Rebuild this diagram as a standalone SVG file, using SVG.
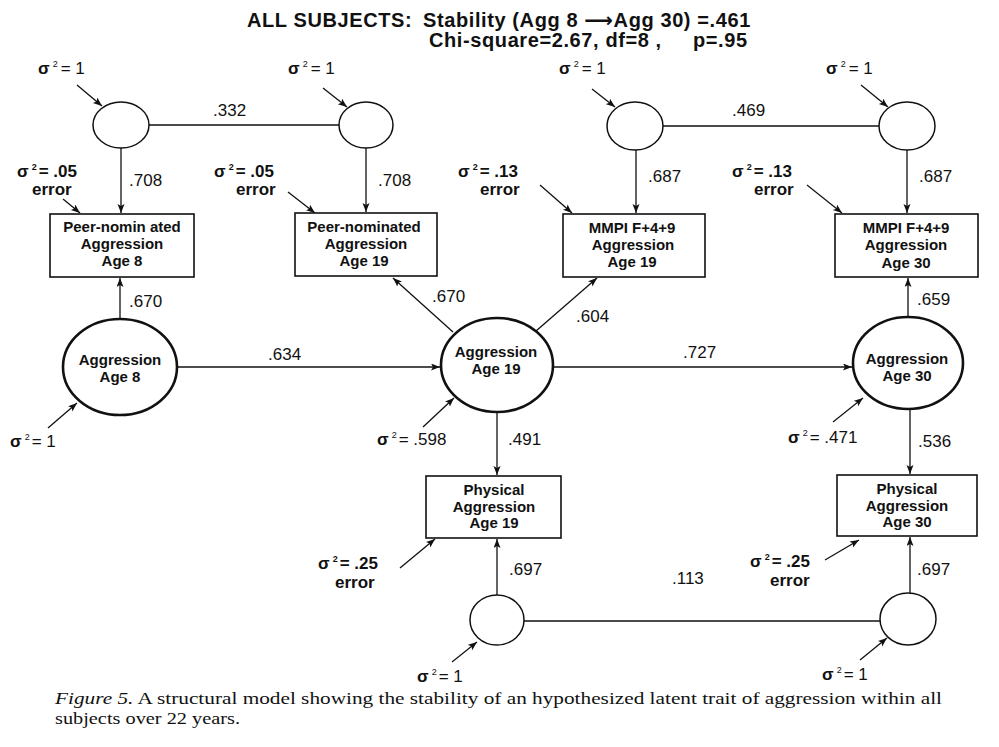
<svg xmlns="http://www.w3.org/2000/svg" width="999" height="747" viewBox="0 0 999 747">
<defs>
<marker id="ah" markerUnits="userSpaceOnUse" markerWidth="10" markerHeight="8" refX="9" refY="3.5" orient="auto">
<path d="M0,0 L9,3.5 L0,7 L2,3.5 z" fill="#111"/>
</marker>
</defs>
<style>
.ln{stroke:#111;stroke-width:1.3;fill:none}
.ar{marker-end:url(#ah)}
.sc{stroke:#111;stroke-width:1.5;fill:#fff}
.bc{stroke:#111;stroke-width:2.6;fill:#fff}
.bx{stroke:#111;stroke-width:1.6;fill:#fff}
text{font-family:"Liberation Sans","DejaVu Sans",Arial,sans-serif;fill:#111}
.nt{font-size:15px;font-weight:bold;text-anchor:middle}
.num{font-size:17px}
.sg{font-size:17px}
.b{font-weight:bold}
.sup{font-size:9px}
.ttl{font-size:20px;font-weight:bold;letter-spacing:0.6px}
.cap{font-family:"Liberation Serif","Times New Roman",serif;font-size:17.5px}
</style>
<rect width="999" height="747" fill="#fff"/>

<g id="title">
<text class="ttl" y="27"><tspan x="247">ALL SUBJECTS:</tspan><tspan x="423">Stability (Agg 8 ⟶Agg 30) =.461</tspan></text>
<text class="ttl" y="47"><tspan x="429">Chi-square=2.67, df=8 ,</tspan><tspan x="693">p=.95</tspan></text>
</g>

<g id="connectors">
<line class="ln" x1="149" y1="125" x2="339" y2="125"/>
<line class="ln" x1="663" y1="126" x2="879" y2="126"/>
<line class="ln" x1="524" y1="621" x2="881" y2="621"/>
<line class="ln ar" x1="121" y1="148" x2="121" y2="213"/>
<line class="ln ar" x1="366" y1="148" x2="366" y2="212"/>
<line class="ln ar" x1="636" y1="150" x2="636" y2="213"/>
<line class="ln ar" x1="907" y1="150" x2="907" y2="213"/>
<line class="ln ar" x1="120" y1="319" x2="120" y2="278"/>
<line class="ln ar" x1="177" y1="367" x2="440" y2="367"/>
<line class="ln ar" x1="453" y1="332" x2="393" y2="278"/>
<line class="ln ar" x1="536" y1="331" x2="597" y2="278"/>
<line class="ln ar" x1="553" y1="367" x2="852" y2="367"/>
<line class="ln ar" x1="908" y1="317" x2="908" y2="278"/>
<line class="ln ar" x1="497" y1="412" x2="497" y2="475"/>
<line class="ln ar" x1="910" y1="409" x2="910" y2="474"/>
<line class="ln ar" x1="497" y1="595" x2="497" y2="539"/>
<line class="ln ar" x1="910" y1="593" x2="910" y2="537"/>
<line class="ln ar" x1="77" y1="85" x2="102" y2="106"/>
<line class="ln ar" x1="323" y1="88" x2="347" y2="107"/>
<line class="ln ar" x1="592" y1="89" x2="615" y2="107"/>
<line class="ln ar" x1="861" y1="85" x2="888" y2="107"/>
<line class="ln ar" x1="63" y1="199" x2="80" y2="213"/>
<line class="ln ar" x1="288" y1="192" x2="315" y2="213"/>
<line class="ln ar" x1="540" y1="185" x2="572" y2="213"/>
<line class="ln ar" x1="807" y1="185" x2="842" y2="213"/>
<line class="ln ar" x1="48" y1="428" x2="77" y2="403"/>
<line class="ln ar" x1="423" y1="427" x2="454" y2="398"/>
<line class="ln ar" x1="833" y1="422" x2="863" y2="398"/>
<line class="ln ar" x1="400" y1="568" x2="435" y2="539"/>
<line class="ln ar" x1="825" y1="560" x2="859" y2="540"/>
<line class="ln ar" x1="452" y1="662" x2="477" y2="642"/>
<line class="ln ar" x1="860" y1="660" x2="887" y2="638"/>
<text class="num" x="213" y="116">.332</text>
<text class="num" x="732" y="116">.469</text>
<text class="num" x="672" y="584">.113</text>
<text class="num" x="129" y="186">.708</text>
<text class="num" x="378" y="186">.708</text>
<text class="num" x="648" y="182">.687</text>
<text class="num" x="919" y="182">.687</text>
<text class="num" x="129" y="307">.670</text>
<text class="num" x="268" y="360">.634</text>
<text class="num" x="432" y="302">.670</text>
<text class="num" x="576" y="322">.604</text>
<text class="num" x="683" y="358">.727</text>
<text class="num" x="917" y="305">.659</text>
<text class="num" x="508" y="445">.491</text>
<text class="num" x="918" y="447">.536</text>
<text class="num" x="509" y="575">.697</text>
<text class="num" x="917" y="575">.697</text>
</g>

<g id="var_peer8"><text class="sg" x="38" y="74"><tspan class="b">σ</tspan><tspan class="sup" dx="3" dy="-7">2</tspan><tspan dx="3" dy="7">= 1</tspan></text></g>
<g id="var_peer19"><text class="sg" x="288" y="74"><tspan class="b">σ</tspan><tspan class="sup" dx="3" dy="-7">2</tspan><tspan dx="3" dy="7">= 1</tspan></text></g>
<g id="var_mmpi19"><text class="sg" x="559" y="74"><tspan class="b">σ</tspan><tspan class="sup" dx="3" dy="-7">2</tspan><tspan dx="3" dy="7">= 1</tspan></text></g>
<g id="var_mmpi30"><text class="sg" x="826" y="74"><tspan class="b">σ</tspan><tspan class="sup" dx="3" dy="-7">2</tspan><tspan dx="3" dy="7">= 1</tspan></text></g>

<g id="err_peer8"><text class="sg b" x="17" y="177">σ<tspan class="sup" dx="3" dy="-7">2</tspan><tspan dx="2" dy="7">= .05</tspan></text><text class="sg b" x="32" y="195">error</text></g>
<g id="err_peer19"><text class="sg b" x="214" y="177">σ<tspan class="sup" dx="3" dy="-7">2</tspan><tspan dx="2" dy="7">= .05</tspan></text><text class="sg b" x="236" y="195">error</text></g>
<g id="err_mmpi19"><text class="sg b" x="458" y="177">σ<tspan class="sup" dx="3" dy="-7">2</tspan><tspan dx="2" dy="7">= .13</tspan></text><text class="sg b" x="480" y="195">error</text></g>
<g id="err_mmpi30"><text class="sg b" x="732" y="177">σ<tspan class="sup" dx="3" dy="-7">2</tspan><tspan dx="2" dy="7">= .13</tspan></text><text class="sg b" x="754" y="195">error</text></g>

<g id="lat_peer8"><ellipse class="sc" cx="121" cy="125" rx="28" ry="23"/></g>
<g id="lat_peer19"><ellipse class="sc" cx="366" cy="125" rx="27" ry="23"/></g>
<g id="lat_mmpi19"><ellipse class="sc" cx="635" cy="126" rx="28" ry="24"/></g>
<g id="lat_mmpi30"><ellipse class="sc" cx="907" cy="126" rx="28" ry="24"/></g>

<g id="box_peer8"><rect class="bx" x="50" y="214" width="144" height="63"/><text class="nt" x="122" y="232">Peer-nomin ated</text><text class="nt" x="122" y="249">Aggression</text><text class="nt" x="122" y="266">Age 8</text></g>
<g id="box_peer19"><rect class="bx" x="295" y="213" width="142" height="63"/><text class="nt" x="364" y="232">Peer-nominated</text><text class="nt" x="366" y="249">Aggression</text><text class="nt" x="364" y="266">Age 19</text></g>
<g id="box_mmpi19"><rect class="bx" x="563" y="214" width="142" height="63"/><text class="nt" x="632" y="233">MMPI F+4+9</text><text class="nt" x="633" y="250">Aggression</text><text class="nt" x="632" y="267">Age 19</text></g>
<g id="box_mmpi30"><rect class="bx" x="835" y="214" width="143" height="63"/><text class="nt" x="906" y="233">MMPI F+4+9</text><text class="nt" x="906" y="250">Aggression</text><text class="nt" x="906" y="268">Age 30</text></g>

<g id="agg8"><ellipse class="bc" cx="120" cy="367" rx="57" ry="48"/><text class="nt" x="120" y="365">Aggression</text><text class="nt" x="120" y="382">Age 8</text></g>
<g id="agg19"><ellipse class="bc" cx="497" cy="365" rx="56" ry="47"/><text class="nt" x="496" y="357">Aggression</text><text class="nt" x="496" y="374">Age 19</text></g>
<g id="agg30"><ellipse class="bc" cx="908" cy="363" rx="55" ry="46"/><text class="nt" x="907" y="364">Aggression</text><text class="nt" x="907" y="381">Age 30</text></g>

<g id="var_agg8"><text class="sg" x="10" y="447"><tspan class="b">σ</tspan><tspan class="sup" dx="3" dy="-7">2</tspan><tspan dx="2" dy="7">= 1</tspan></text></g>
<g id="var_agg19"><text class="sg" x="377" y="445"><tspan class="b">σ</tspan><tspan class="sup" dx="3" dy="-7">2</tspan><tspan dx="2" dy="7">= .598</tspan></text></g>
<g id="var_agg30"><text class="sg" x="788" y="443"><tspan class="b">σ</tspan><tspan class="sup" dx="3" dy="-7">2</tspan><tspan dx="2" dy="7">= .471</tspan></text></g>

<g id="box_phys19"><rect class="bx" x="426" y="476" width="135" height="62"/><text class="nt" x="494" y="495">Physical</text><text class="nt" x="494" y="512">Aggression</text><text class="nt" x="494" y="528">Age 19</text></g>
<g id="box_phys30"><rect class="bx" x="837" y="475" width="140" height="61"/><text class="nt" x="907" y="494">Physical</text><text class="nt" x="907" y="511">Aggression</text><text class="nt" x="907" y="527">Age 30</text></g>

<g id="err_phys19"><text class="sg b" x="318" y="569">σ<tspan class="sup" dx="3" dy="-7">2</tspan><tspan dx="2" dy="7">= .25</tspan></text><text class="sg b" x="335" y="588">error</text></g>
<g id="err_phys30"><text class="sg b" x="750" y="567">σ<tspan class="sup" dx="3" dy="-7">2</tspan><tspan dx="2" dy="7">= .25</tspan></text><text class="sg b" x="770" y="586">error</text></g>

<g id="lat_phys19"><ellipse class="sc" cx="497" cy="620" rx="27" ry="25"/></g>
<g id="lat_phys30"><ellipse class="sc" cx="908" cy="619" rx="28" ry="26"/></g>

<g id="var_phys19"><text class="sg" x="417" y="682"><tspan class="b">σ</tspan><tspan class="sup" dx="3" dy="-7">2</tspan><tspan dx="2" dy="7">= 1</tspan></text></g>
<g id="var_phys30"><text class="sg" x="822" y="680"><tspan class="b">σ</tspan><tspan class="sup" dx="3" dy="-7">2</tspan><tspan dx="2" dy="7">= 1</tspan></text></g>

<g id="caption">
<text class="cap" x="55" y="704" textLength="887" lengthAdjust="spacingAndGlyphs"><tspan font-style="italic">Figure 5.</tspan> A structural model showing the stability of an hypothesized latent trait of aggression within all</text>
<text class="cap" x="55" y="724" textLength="185" lengthAdjust="spacingAndGlyphs">subjects over 22 years.</text>
</g>
</svg>
